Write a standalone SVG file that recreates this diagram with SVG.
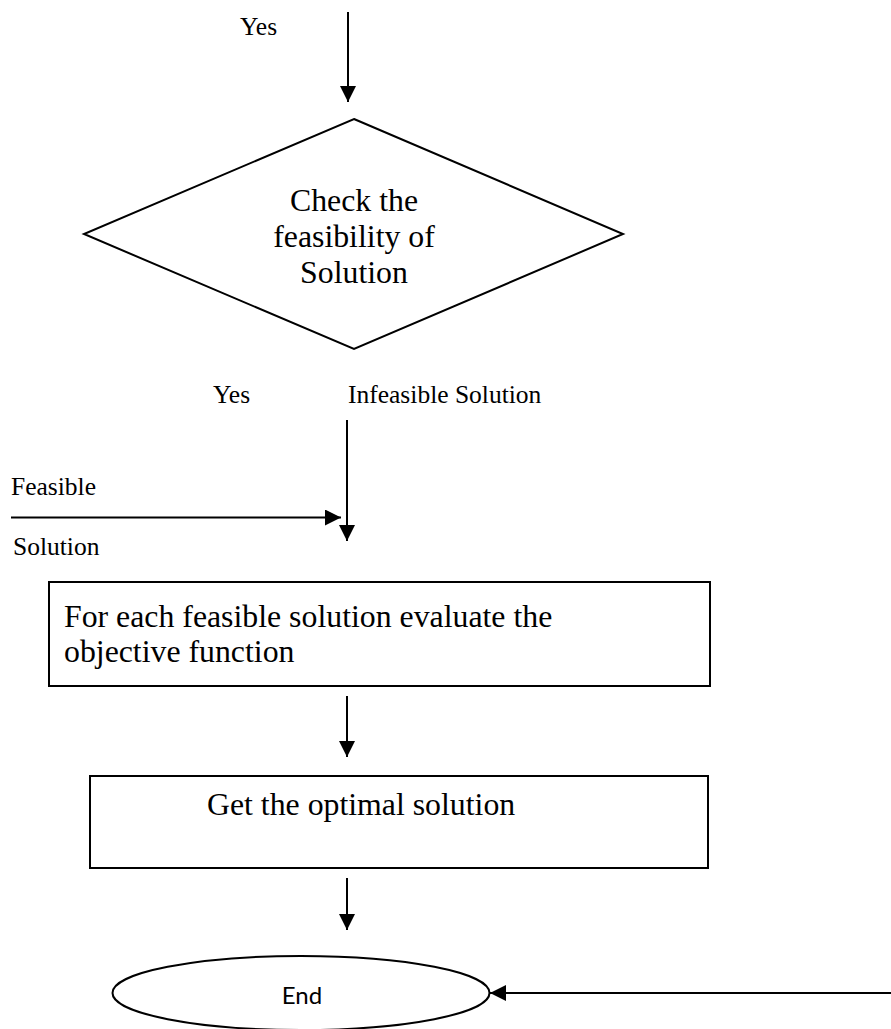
<svg xmlns="http://www.w3.org/2000/svg" width="891" height="1029" viewBox="0 0 891 1029">
<style>
.serif{font-family:"Liberation Serif","Times New Roman",serif;fill:#000}
.lbl{font-size:25.5px}
.big{font-size:31.8px}
.sans{font-family:Lato,"Open Sans",sans-serif;font-size:24px;fill:#000}
.shape{fill:#fff;stroke:#000;stroke-width:2}
.line{fill:none;stroke:#000;stroke-width:2}
</style>
<defs>
<marker id="arrow" markerUnits="userSpaceOnUse" markerWidth="16" markerHeight="16" viewBox="0 0 16 16" refX="16" refY="8" orient="auto">
<path d="M0,0 L16,8 L0,16 Z" fill="#000"/>
</marker>
</defs>
<g id="connectors">
<line class="line" x1="348" y1="12" x2="348" y2="102" marker-end="url(#arrow)"/>
<line class="line" x1="347" y1="420" x2="347" y2="541" marker-end="url(#arrow)"/>
<line class="line" x1="11" y1="517.5" x2="341" y2="517.5" marker-end="url(#arrow)"/>
<line class="line" x1="347" y1="696" x2="347" y2="757" marker-end="url(#arrow)"/>
<line class="line" x1="347" y1="878" x2="347" y2="930" marker-end="url(#arrow)"/>
<line class="line" x1="891" y1="993" x2="490" y2="993" marker-end="url(#arrow)"/>
</g>
<g id="labels">
<text class="serif lbl" x="240" y="35">Yes</text>
<text class="serif lbl" x="213" y="403">Yes</text>
<text class="serif lbl" x="348" y="403">Infeasible Solution</text>
<text class="serif lbl" x="11" y="495">Feasible</text>
<text class="serif lbl" x="13" y="555">Solution</text>
</g>
<g id="check-feasibility">
<polygon class="shape" points="354,119 623,234 354,349 84,234"/>
<text class="serif big" text-anchor="middle" x="354" y="211">Check the</text>
<text class="serif big" text-anchor="middle" x="354" y="247">feasibility of</text>
<text class="serif big" text-anchor="middle" x="354" y="283">Solution</text>
</g>
<g id="evaluate">
<rect class="shape" x="49" y="582" width="661" height="104"/>
<text class="serif big" x="64" y="627">For each feasible solution evaluate the</text>
<text class="serif big" x="64" y="662">objective function</text>
</g>
<g id="optimal">
<rect class="shape" x="90" y="776" width="618" height="92"/>
<text class="serif big" x="207" y="815">Get the optimal solution</text>
</g>
<g id="end">
<ellipse class="shape" stroke-width="1.5" cx="301" cy="993" rx="188.5" ry="37"/>
<text class="sans" text-anchor="middle" x="302" y="1004">End</text>
</g>
</svg>
